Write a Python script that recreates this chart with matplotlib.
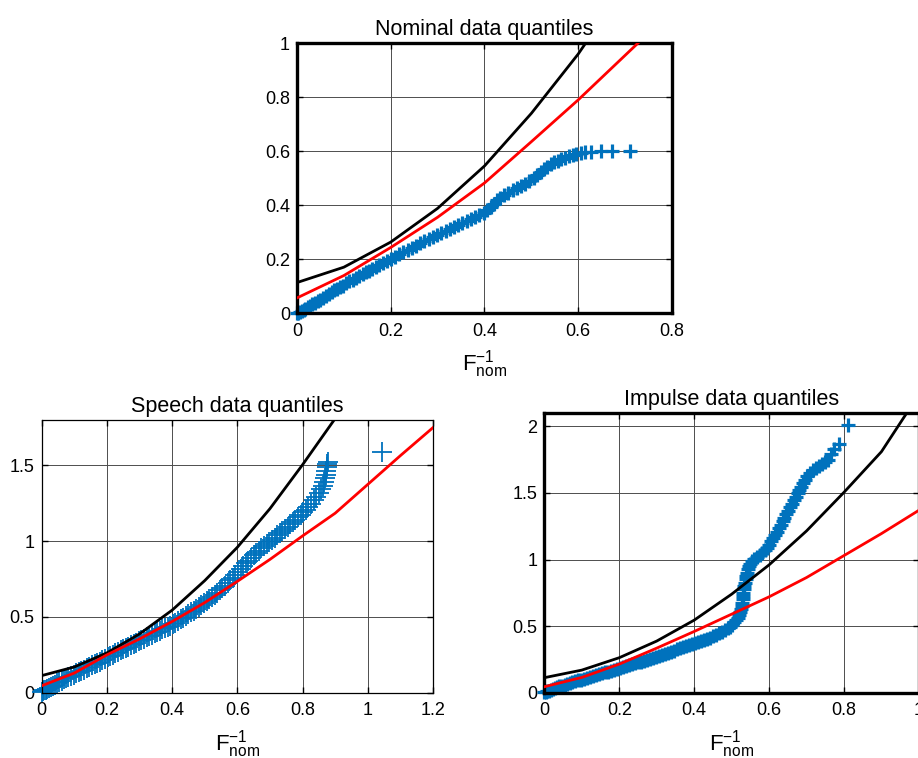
import numpy as np
import matplotlib
matplotlib.use('Agg')
import matplotlib.pyplot as plt
from matplotlib.ticker import FuncFormatter

plt.rcParams['font.family'] = ['Liberation Sans', 'DejaVu Sans']
plt.rcParams['mathtext.fontset'] = 'custom'
plt.rcParams['mathtext.rm'] = 'Liberation Sans'

# curvas de referencia (evaluadas cada 0.1)
ref_x = [0.0, 0.1, 0.2, 0.3, 0.4, 0.5, 0.6, 0.7, 0.8, 0.9, 1.0, 1.1, 1.2]
black_y = [0.113, 0.170, 0.263, 0.388, 0.545, 0.740, 0.960, 1.215, 1.505, 1.810, 2.240]
red_nom = [0.056, 0.139, 0.243, 0.355, 0.482, 0.635, 0.790, 0.955, 1.120]
red_speech = [0.046, 0.130, 0.250, 0.355, 0.470, 0.595, 0.735, 0.880, 1.035, 1.185, 1.375, 1.565, 1.750]
red_imp = [0.045, 0.115, 0.215, 0.335, 0.460, 0.590, 0.720, 0.865, 1.030, 1.195, 1.370]

# cuantiles nominales
nom_x = [0.000, 0.003, 0.006, 0.010, 0.014, 0.018, 0.023, 0.028, 0.033, 0.038,
         0.044, 0.050, 0.056, 0.062, 0.068, 0.074, 0.080, 0.086, 0.092, 0.098,
         0.105, 0.112, 0.119, 0.126, 0.133, 0.140, 0.147, 0.154, 0.161, 0.168,
         0.176, 0.184, 0.192, 0.200, 0.209, 0.218, 0.227, 0.236, 0.245, 0.254,
         0.263, 0.272, 0.281, 0.290, 0.299, 0.308, 0.317, 0.326, 0.335, 0.344,
         0.353, 0.362, 0.371, 0.380, 0.389, 0.398, 0.406, 0.413, 0.420, 0.427,
         0.434, 0.442, 0.451, 0.460, 0.469, 0.478, 0.487, 0.496, 0.505, 0.513,
         0.520, 0.527, 0.534, 0.541, 0.548, 0.556, 0.564, 0.572, 0.580, 0.588,
         0.596, 0.605, 0.615, 0.628, 0.648, 0.672, 0.710]
nom_y = [0.000, 0.002, 0.005, 0.008, 0.012, 0.016, 0.021, 0.027, 0.032, 0.038,
         0.044, 0.050, 0.057, 0.064, 0.071, 0.078, 0.084, 0.090, 0.096, 0.102,
         0.110, 0.117, 0.124, 0.131, 0.138, 0.145, 0.151, 0.157, 0.163, 0.169,
         0.177, 0.185, 0.193, 0.200, 0.209, 0.218, 0.226, 0.234, 0.242, 0.250,
         0.258, 0.266, 0.274, 0.282, 0.290, 0.297, 0.305, 0.313, 0.320, 0.328,
         0.335, 0.342, 0.349, 0.356, 0.364, 0.372, 0.381, 0.392, 0.405, 0.418,
         0.428, 0.437, 0.446, 0.455, 0.463, 0.471, 0.480, 0.489, 0.499, 0.510,
         0.522, 0.533, 0.543, 0.551, 0.558, 0.564, 0.570, 0.576, 0.581, 0.585,
         0.589, 0.593, 0.596, 0.598, 0.600, 0.600, 0.600]

# cuantiles de voz
sp_x = [0.000, 0.004, 0.008, 0.012, 0.017, 0.022, 0.028, 0.034, 0.040, 0.047,
        0.054, 0.061, 0.068, 0.075, 0.082, 0.090, 0.098, 0.106, 0.114, 0.122,
        0.130, 0.138, 0.146, 0.154, 0.162, 0.170, 0.178, 0.186, 0.194, 0.202,
        0.210, 0.218, 0.226, 0.234, 0.242, 0.250, 0.258, 0.266, 0.274, 0.282,
        0.290, 0.298, 0.306, 0.314, 0.322, 0.330, 0.338, 0.346, 0.354, 0.362,
        0.370, 0.378, 0.386, 0.394, 0.402, 0.410, 0.418, 0.426, 0.434, 0.442,
        0.450, 0.458, 0.466, 0.474, 0.482, 0.490, 0.498, 0.506, 0.514, 0.522,
        0.530, 0.538, 0.546, 0.554, 0.562, 0.570, 0.578, 0.586, 0.594, 0.602,
        0.610, 0.618, 0.626, 0.634, 0.642, 0.650, 0.658, 0.666, 0.674, 0.682,
        0.690, 0.698, 0.706, 0.714, 0.722, 0.730, 0.738, 0.746, 0.754, 0.762,
        0.770, 0.778, 0.786, 0.794, 0.802, 0.810, 0.818, 0.826, 0.834, 0.842,
        0.850, 0.857, 0.863, 0.867, 0.870, 0.872, 0.873, 0.874, 0.876, 0.878,
        1.043]
sp_y = [0.005, 0.010, 0.015, 0.020, 0.026, 0.032, 0.039, 0.046, 0.053, 0.061,
        0.070, 0.079, 0.088, 0.096, 0.104, 0.112, 0.120, 0.128, 0.136, 0.145,
        0.153, 0.162, 0.171, 0.180, 0.189, 0.197, 0.206, 0.215, 0.224, 0.233,
        0.242, 0.252, 0.261, 0.270, 0.279, 0.288, 0.297, 0.305, 0.314, 0.323,
        0.331, 0.340, 0.349, 0.357, 0.366, 0.375, 0.383, 0.392, 0.401, 0.409,
        0.418, 0.426, 0.434, 0.443, 0.452, 0.462, 0.473, 0.484, 0.495, 0.506,
        0.518, 0.530, 0.542, 0.554, 0.566, 0.578, 0.591, 0.605, 0.619, 0.633,
        0.647, 0.661, 0.675, 0.691, 0.707, 0.724, 0.741, 0.759, 0.777, 0.796,
        0.815, 0.834, 0.853, 0.872, 0.890, 0.907, 0.922, 0.938, 0.953, 0.968,
        0.983, 0.997, 1.010, 1.024, 1.038, 1.052, 1.067, 1.082, 1.097, 1.113,
        1.128, 1.143, 1.158, 1.174, 1.190, 1.207, 1.226, 1.247, 1.270, 1.293,
        1.318, 1.342, 1.366, 1.390, 1.415, 1.440, 1.465, 1.488, 1.510, 1.525,
        1.590]

# cuantiles impulsivos
imp_x = [0.000, 0.004, 0.008, 0.012, 0.017, 0.022, 0.028, 0.034, 0.040, 0.047,
         0.054, 0.061, 0.068, 0.075, 0.083, 0.091, 0.099, 0.107, 0.115, 0.123,
         0.131, 0.139, 0.147, 0.155, 0.163, 0.171, 0.179, 0.187, 0.195, 0.203,
         0.211, 0.219, 0.227, 0.235, 0.243, 0.251, 0.259, 0.267, 0.275, 0.283,
         0.291, 0.299, 0.307, 0.315, 0.323, 0.331, 0.339, 0.347, 0.355, 0.363,
         0.371, 0.379, 0.387, 0.395, 0.403, 0.411, 0.419, 0.427, 0.435, 0.443,
         0.451, 0.459, 0.467, 0.475, 0.483, 0.490, 0.496, 0.502, 0.507, 0.512,
         0.516, 0.520, 0.523, 0.525, 0.527, 0.528, 0.529, 0.530, 0.531, 0.532,
         0.533, 0.535, 0.537, 0.539, 0.541, 0.543, 0.546, 0.550, 0.555, 0.561,
         0.568, 0.575, 0.582, 0.589, 0.595, 0.601, 0.606, 0.611, 0.616, 0.621,
         0.626, 0.631, 0.636, 0.641, 0.646, 0.651, 0.656, 0.661, 0.666, 0.671,
         0.676, 0.681, 0.686, 0.691, 0.696, 0.702, 0.709, 0.716, 0.724, 0.732,
         0.740, 0.748, 0.756, 0.764, 0.772, 0.786, 0.811]
imp_y = [0.003, 0.007, 0.011, 0.015, 0.020, 0.026, 0.033, 0.040, 0.047, 0.054,
         0.061, 0.067, 0.073, 0.079, 0.086, 0.093, 0.099, 0.106, 0.112, 0.119,
         0.126, 0.132, 0.139, 0.146, 0.153, 0.159, 0.166, 0.173, 0.180, 0.187,
         0.194, 0.200, 0.207, 0.214, 0.221, 0.228, 0.234, 0.241, 0.248, 0.255,
         0.262, 0.269, 0.277, 0.285, 0.293, 0.301, 0.309, 0.317, 0.325, 0.333,
         0.341, 0.349, 0.357, 0.365, 0.372, 0.380, 0.388, 0.396, 0.405, 0.414,
         0.424, 0.434, 0.445, 0.456, 0.469, 0.483, 0.497, 0.512, 0.528, 0.545,
         0.563, 0.583, 0.605, 0.628, 0.652, 0.677, 0.702, 0.727, 0.752, 0.777,
         0.802, 0.827, 0.852, 0.877, 0.902, 0.927, 0.950, 0.970, 0.988, 1.004,
         1.020, 1.036, 1.052, 1.070, 1.090, 1.112, 1.136, 1.160, 1.185, 1.210,
         1.236, 1.262, 1.288, 1.314, 1.340, 1.366, 1.392, 1.418, 1.444, 1.470,
         1.496, 1.522, 1.548, 1.574, 1.600, 1.626, 1.650, 1.672, 1.690, 1.705,
         1.718, 1.732, 1.750, 1.790, 1.830, 1.870, 2.010]

azul = '#0072BD'
fmt = FuncFormatter(lambda v, p: '%g' % round(v, 3))


def panel(ax, qx, qy, red, titulo, xlim, ylim, xt, yt, borde, ms, mew):
    ax.plot(ref_x[:len(black_y)], black_y, color='k', lw=2.0, zorder=3)
    ax.plot(ref_x[:len(red)], red, color='r', lw=2.0, zorder=4)
    ax.plot(qx, qy, '+', color=azul, ms=ms, mew=mew, zorder=2, clip_on=False)
    ax.set_xlim(xlim)
    ax.set_ylim(ylim)
    ax.set_xticks(xt)
    ax.set_yticks(yt)
    ax.xaxis.set_major_formatter(fmt)
    ax.yaxis.set_major_formatter(fmt)
    ax.grid(True, color='0.3', lw=0.7)
    ax.set_axisbelow(True)
    ax.tick_params(direction='in', top=True, right=True, length=4,
                   labelsize=13, width=1)
    ax.tick_params(axis='x', pad=7)
    ax.tick_params(axis='y', pad=5)
    for s in ax.spines.values():
        s.set_linewidth(borde)
    ax.set_title(titulo, fontsize=15.5, pad=6)
    ax.set_xlabel(r'$\mathrm{F}^{\mathrm{-1}}_{\mathrm{nom}}$', fontsize=16, labelpad=6)


fig = plt.figure(figsize=(9.18, 7.58), dpi=100)
ax1 = fig.add_axes([0.3235, 0.587, 0.4085, 0.356])
ax2 = fig.add_axes([0.0454, 0.0861, 0.4263, 0.3598])
ax3 = fig.add_axes([0.593, 0.0861, 0.408, 0.369])

panel(ax1, nom_x, nom_y, red_nom, 'Nominal data quantiles', (0, 0.8), (0, 1),
      [0, 0.2, 0.4, 0.6, 0.8], [0, 0.2, 0.4, 0.6, 0.8, 1], 2.4, 10.5, 2.3)
panel(ax2, sp_x, sp_y, red_speech, 'Speech data quantiles', (0, 1.2), (0, 1.8),
      [0, 0.2, 0.4, 0.6, 0.8, 1, 1.2], [0, 0.5, 1, 1.5], 0.9, 14, 1.3)
panel(ax3, imp_x, imp_y, red_imp, 'Impulse data quantiles', (0, 1), (0, 2.1),
      [0, 0.2, 0.4, 0.6, 0.8, 1], [0, 0.5, 1, 1.5, 2], 2.4, 10.5, 2.3)

fig.savefig('out.png', dpi=100)
